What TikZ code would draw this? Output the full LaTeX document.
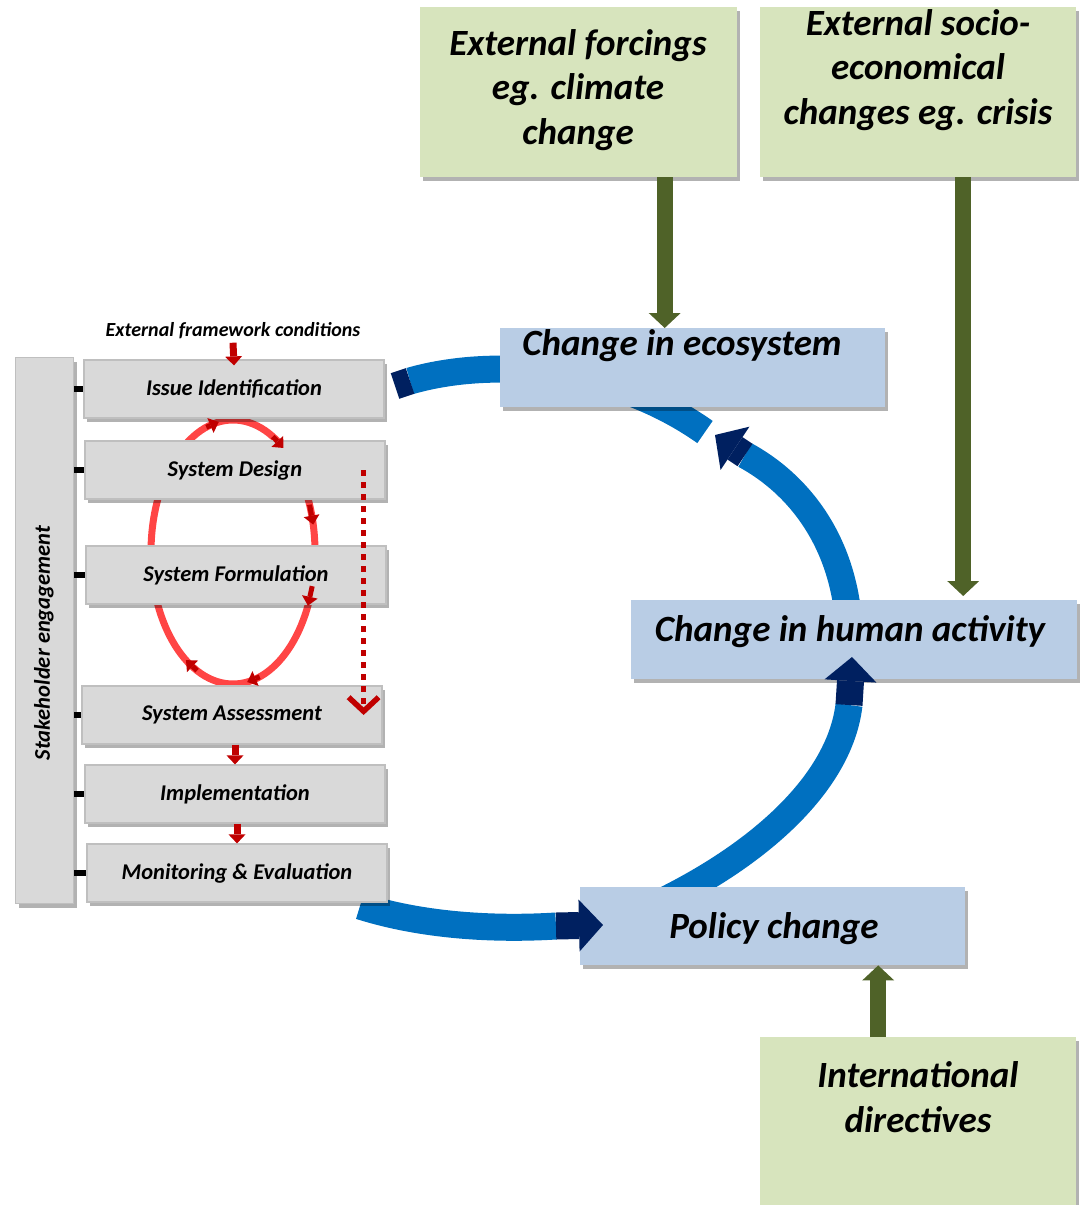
\documentclass[tikz,border=0pt]{standalone}
\usepackage{fontspec}
\setmainfont{Carlito}
\usetikzlibrary{arrows.meta,shadows}

\definecolor{boxgreen}{HTML}{D7E4BD}
\definecolor{olive}{HTML}{4F6228}
\definecolor{boxblue}{HTML}{B9CDE5}
\definecolor{arcblue}{HTML}{0070C0}
\definecolor{navy}{HTML}{002060}
\definecolor{stepgray}{HTML}{D9D9D9}
\definecolor{stepedge}{HTML}{BFBFBF}
\definecolor{ellred}{HTML}{FF4545}
\definecolor{darkred}{HTML}{C00000}

\tikzset{
  softshadow/.style={drop shadow={shadow xshift=3pt,shadow yshift=-4pt,fill=black,opacity=.3}},
  greenbox/.style={fill=boxgreen,softshadow,anchor=north west,inner sep=0pt},
  bluebox/.style={fill=boxblue,softshadow,anchor=north west,inner sep=0pt},
  stepbox/.style={fill=stepgray,draw=stepedge,line width=1.2pt,softshadow,
    minimum width=300pt,minimum height=58pt,
    font=\fontsize{22.5}{26}\selectfont\bfseries\itshape},
  bigtext/.style={font=\fontsize{37}{44.5}\selectfont\bfseries\itshape,align=center},
  ringarc/.style={arcblue,line width=27pt},
  ringhead/.style={navy,line width=27pt,-{Triangle[length=24pt,width=52pt,line width=0pt]}},
  greenarr/.style={olive,line width=16pt,-{Triangle[length=15pt,width=32pt,line width=0pt]}},
  redarr/.style={darkred,line width=7pt,-{Triangle[length=9pt,width=17pt,line width=0pt]}},
  stubline/.style={black,line width=6pt},
  dotarr/.style={darkred,line width=5.5pt,dash pattern=on 6pt off 6pt,
    -{Straight Barb[length=14pt,width=30pt]}},
}

\begin{document}
\begin{tikzpicture}[x=1pt,y=-1pt]
% \draw[help lines] (0,0) grid[step=100] (1080,1205);
\useasboundingbox (0,0) rectangle (1080,1205);

% blue ring, behind the boxes
\coordinate (tailA) at (360,906);
\coordinate (bendA) at (556,926);
\coordinate (tailB) at (665,900);
\coordinate (bendB) at (849,705);
\coordinate (tailC) at (848,615);
\coordinate (bendC) at (745,455);
\coordinate (tailD) at (705,432);
\coordinate (bendD) at (410,381);
\draw[ringarc] (tailA) .. controls (420,925) and (490,930) .. (bendA);
\draw[ringarc] (tailB) .. controls (765,850) and (840,780) .. (bendB);
\draw[ringarc] (tailC) .. controls (840,540) and (800,485) .. (bendC);
\draw[ringarc] (tailD) .. controls (610,365) and (490,358) .. (bendD);

% cycle behind the steps
\draw[ellred,line width=7pt] (233,552) ellipse [x radius=82, y radius=132];

% boxes
\node[greenbox,minimum width=317pt,minimum height=170pt] (forcing) at (420,7) {};
\node[greenbox,minimum width=316pt,minimum height=170pt] (socio) at (760,7) {};
\node[greenbox,minimum width=316pt,minimum height=168pt] (direct) at (760,1037) {};
\node[bluebox,minimum width=385pt,minimum height=79pt] (eco) at (500,328) {};
\node[bluebox,minimum width=446pt,minimum height=79pt] (human) at (631,600) {};
\node[bluebox,minimum width=385pt,minimum height=78pt] (policy) at (580,887) {};

\node[bigtext] (forcingtxt) at (578,90) {External forcings\\eg. climate\\change};
\node[bigtext] (sociotxt) at (918,70) {External socio-\\economical\\changes eg. crisis};
\node[bigtext] (directtxt) at (918,1097) {International\\directives};
\node[bigtext] (ecotxt) at (682,346) {Change in ecosystem};
\node[bigtext] (humantxt) at (850,632) {Change in human activity};
\node[bigtext] (policytxt) at (774,929) {Policy change};

% left panel
\node[font=\fontsize{20}{23}\selectfont\bfseries\itshape] (extfw) at (233,331) {External framework conditions};
\node[fill=stepgray,draw=stepedge,line width=1.2pt,softshadow,anchor=north west,
  minimum width=58pt,minimum height=546pt,inner sep=0pt] (stake) at (15,357) {};
\node[rotate=90,font=\fontsize{22.5}{26}\selectfont\bfseries\itshape] (staketxt) at (44,643) {Stakeholder engagement};

\node[stepbox] (issue) at (234,389) {Issue Identification};
\node[stepbox] (design) at (235,470) {System Design};
\node[stepbox] (formul) at (236,575) {System Formulation};
\node[stepbox] (assess) at (232,715) {System Assessment};
\node[stepbox] (impl) at (235,794) {Implementation};
\node[stepbox] (monit) at (237,873) {Monitoring \& Evaluation};

\foreach \s in {issue,design,formul,assess,impl,monit}
  \draw[stubline] (stake.east |- \s.west) -- (\s.west);

\foreach \a in {100,52,12,-24,-80,-125}
  \draw[darkred,line width=5pt,-{Triangle[length=9pt,width=16pt,line width=0pt]}]
    ({233+82*cos(\a+9)},{552-132*sin(\a+9)}) -- ({233+82*cos(\a)},{552-132*sin(\a)});

\draw[redarr] (extfw.south) -- ([yshift=-6pt]issue.north);
\draw[redarr] (assess.south -| impl.north) -- (impl.north);
\draw[redarr] (impl.south -| monit.north) -- (monit.north);

\coordinate (dottop) at ([xshift=-22pt]design.east);
\draw[dotarr] (dottop) -- (dottop |- assess.center);

% heads of the ring
\draw[ringhead] (bendA) -- (603,925);
\draw[ringhead] (bendB) -- (852,657);
\draw[ringhead] (bendC) -- (715,435);
\draw[navy,line width=27pt] (bendD) -- (395,386);

% outside drivers
\coordinate (g1) at ([xshift=86pt]forcing.south);
\coordinate (g2) at ([xshift=45pt]socio.south);
\coordinate (g3) at ([xshift=-40pt]direct.north);
\draw[greenarr] (g1) -- (g1 |- eco.north);
\draw[greenarr,shorten >=4pt] (g2) -- (g2 |- human.north);
\draw[greenarr] (g3) -- (g3 |- policy.south);

\end{tikzpicture}
\end{document}
